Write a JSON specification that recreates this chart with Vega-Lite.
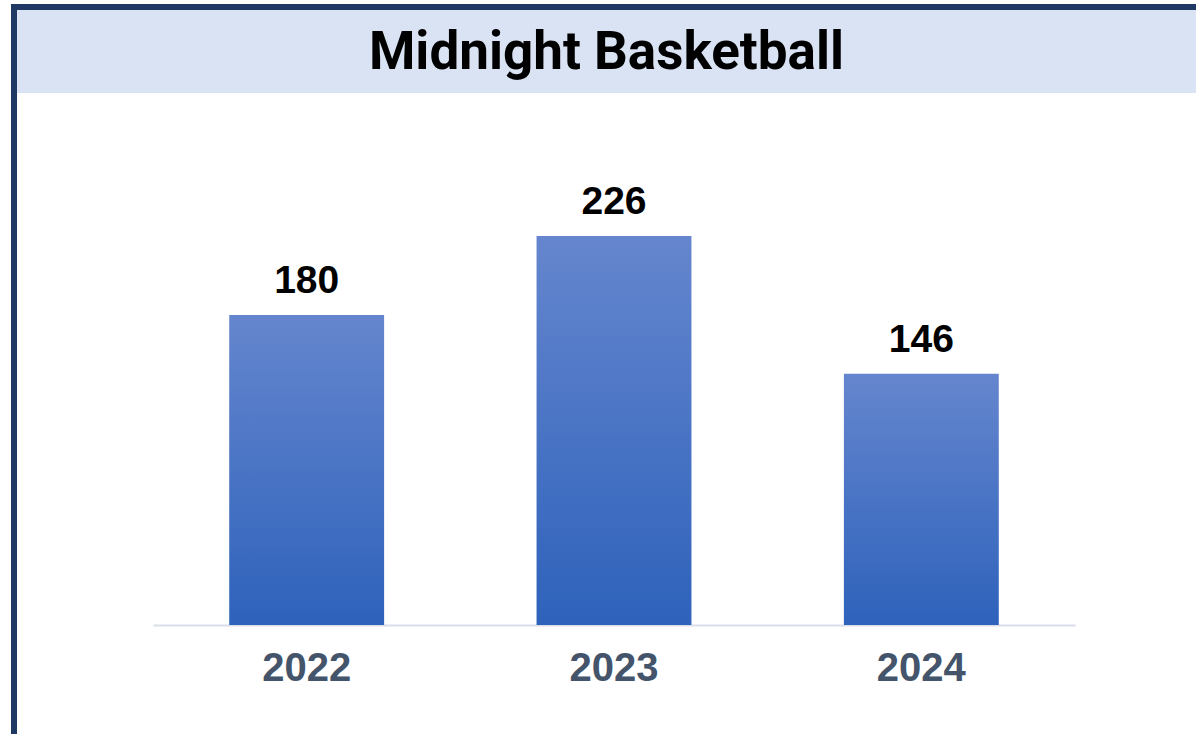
{
  "$schema": "https://vega.github.io/schema/vega-lite/v6.json",
  "background": "white",
  "padding": {"left": 11, "top": 4, "right": 0, "bottom": 0},
  "spacing": 0,
  "bounds": "flush",
  "config": {"view": {"stroke": null}, "concat": {"spacing": 0}},
  "vconcat": [
    {
      "width": 1185,
      "height": 6,
      "view": {"fill": "#1f3864", "stroke": null},
      "data": {"values": [{"t": ""}]},
      "mark": {"type": "text", "fontSize": 0},
      "encoding": {"text": {"field": "t"}}
    },
    {
      "spacing": 0,
      "bounds": "flush",
      "hconcat": [
        {
          "width": 6,
          "height": 724,
          "view": {"fill": "#1f3864", "stroke": null},
          "data": {"values": [{"t": ""}]},
          "mark": {"type": "text", "fontSize": 0},
          "encoding": {"text": {"field": "t"}}
        },
        {
          "spacing": 0,
          "bounds": "flush",
          "vconcat": [
            {
              "width": 1179,
              "height": 83,
              "view": {"fill": "#dae3f3", "stroke": null},
              "data": {"values": [{"t": "Midnight Basketball"}]},
              "mark": {"type": "text", "font": "Roboto", "fontWeight": "bold", "fontSize": 53, "color": "black", "align": "center", "baseline": "middle", "dy": 1},
              "encoding": {"text": {"field": "t"}}
            },
            {
              "width": 1179,
              "height": 532,
              "data": {"values": [
                {"year": "2022", "count": 180},
                {"year": "2023", "count": 226},
                {"year": "2024", "count": 146}
              ]},
              "encoding": {
                "x": {
                  "field": "year", "type": "nominal", "sort": null,
                  "scale": {"range": [136, 1058], "paddingInner": 0.496, "paddingOuter": 0.248},
                  "axis": {"title": null, "labelAngle": 0, "ticks": false, "grid": false, "domainColor": "#d9dee8", "domainWidth": 2, "labelFont": "Liberation Sans", "labelFontSize": 40, "labelFontWeight": "bold", "labelColor": "#44546a", "labelPadding": 23}
                },
                "y": {"field": "count", "type": "quantitative", "scale": {"domain": [0, 309], "nice": false}, "axis": null}
              },
              "layer": [
                {
                  "mark": {"type": "bar", "color": {"gradient": "linear", "x1": 0, "y1": 0, "x2": 0, "y2": 1, "stops": [{"offset": 0, "color": "#6586ce"}, {"offset": 1, "color": "#2e62bb"}]}}
                },
                {
                  "mark": {"type": "text", "font": "Liberation Sans", "fontWeight": "bold", "fontSize": 39, "color": "black", "align": "center", "baseline": "alphabetic", "dy": -22},
                  "encoding": {"text": {"field": "count"}}
                }
              ]
            }
          ]
        }
      ]
    }
  ]
}
